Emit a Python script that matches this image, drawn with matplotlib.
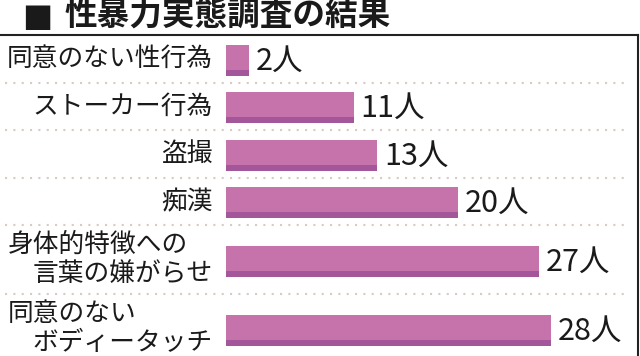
import matplotlib
matplotlib.use("Agg")
import matplotlib.pyplot as plt
from matplotlib.lines import Line2D

plt.rcParams['font.family'] = ['Noto Sans CJK JP', 'DejaVu Sans']

# data
title = "性暴力実態調査の結果"
categories = [
    ["同意のない性行為"],
    ["ストーカー行為"],
    ["盗撮"],
    ["痴漢"],
    ["身体的特徴への", "言葉の嫌がらせ"],
    ["同意のない", "ボディータッチ"],
]
counts = [2, 11, 13, 20, 27, 28]
unit = "人"

main_col = "#c773ab"
dark_col = "#a3579a"
dot_col = "#d8cbc3"

W, H = 640, 356
fig = plt.figure(figsize=(W / 100, H / 100), dpi=100)
fig.patch.set_facecolor("white")

# bars: 0 at x=226px, 11.6px per person
x0, px_per = 226, 11.6
ax = fig.add_axes([x0 / W, 0, (638 - x0) / W, 1])
ax.set_xlim(0, (638 - x0) / px_per)
ax.set_ylim(H, 0)
ax.axis("off")

# row layout (pixels)
top = 35
row_h = [47.5 if len(c) == 1 else 69 for c in categories]
centers = []
seps = []
y = top
for h in row_h:
    centers.append(y + h / 2 + 1.5)
    y += h
    seps.append(y)

bar_h = 31
strip = 6
ax.barh(centers, counts, height=bar_h, color=main_col, linewidth=0)
ax.barh([c + bar_h / 2 - strip / 2 for c in centers], counts, height=strip,
        color=dark_col, linewidth=0)

for c, v in zip(centers, counts):
    ax.text(v + 0.6, c + 1, f"{v}{unit}", va="center", ha="left",
            fontsize=22, color="#1a1a1a")

# category labels
for c, lab in zip(centers, categories):
    if len(lab) == 1:
        fig.text(213 / W, 1 - (c - 1) / H, lab[0], ha="right", va="center",
                 fontsize=18.5, color="#1a1a1a")
    else:
        fig.text(8 / W, 1 - (c - 16) / H, lab[0], ha="left", va="center",
                 fontsize=18.5, color="#1a1a1a")
        fig.text(213 / W, 1 - (c + 13) / H, lab[1], ha="right", va="center",
                 fontsize=18.5, color="#1a1a1a")

# dotted separators
for s in seps[:-1]:
    fig.add_artist(Line2D([5 / W, 625 / W], [1 - s / H, 1 - s / H],
                          color=dot_col, lw=1.5, linestyle=(0, (1, 3))))

# frame
fig.add_artist(Line2D([0, 638 / W], [1 - top / H, 1 - top / H], color="#222222", lw=1.5))
fig.add_artist(Line2D([638 / W, 638 / W], [1 - top / H, 0], color="#222222", lw=1.5))

# title with square marker
fig.text(22 / W, 1 - 17 / H, "■", ha="left", va="center",
         fontsize=23, color="#1a1a1a", family="DejaVu Sans")
fig.text(64 / W, 1 - 16 / H, title, ha="left", va="center",
         fontsize=23.5, fontweight="bold", color="#1a1a1a")

fig.savefig("out.png", dpi=100)
